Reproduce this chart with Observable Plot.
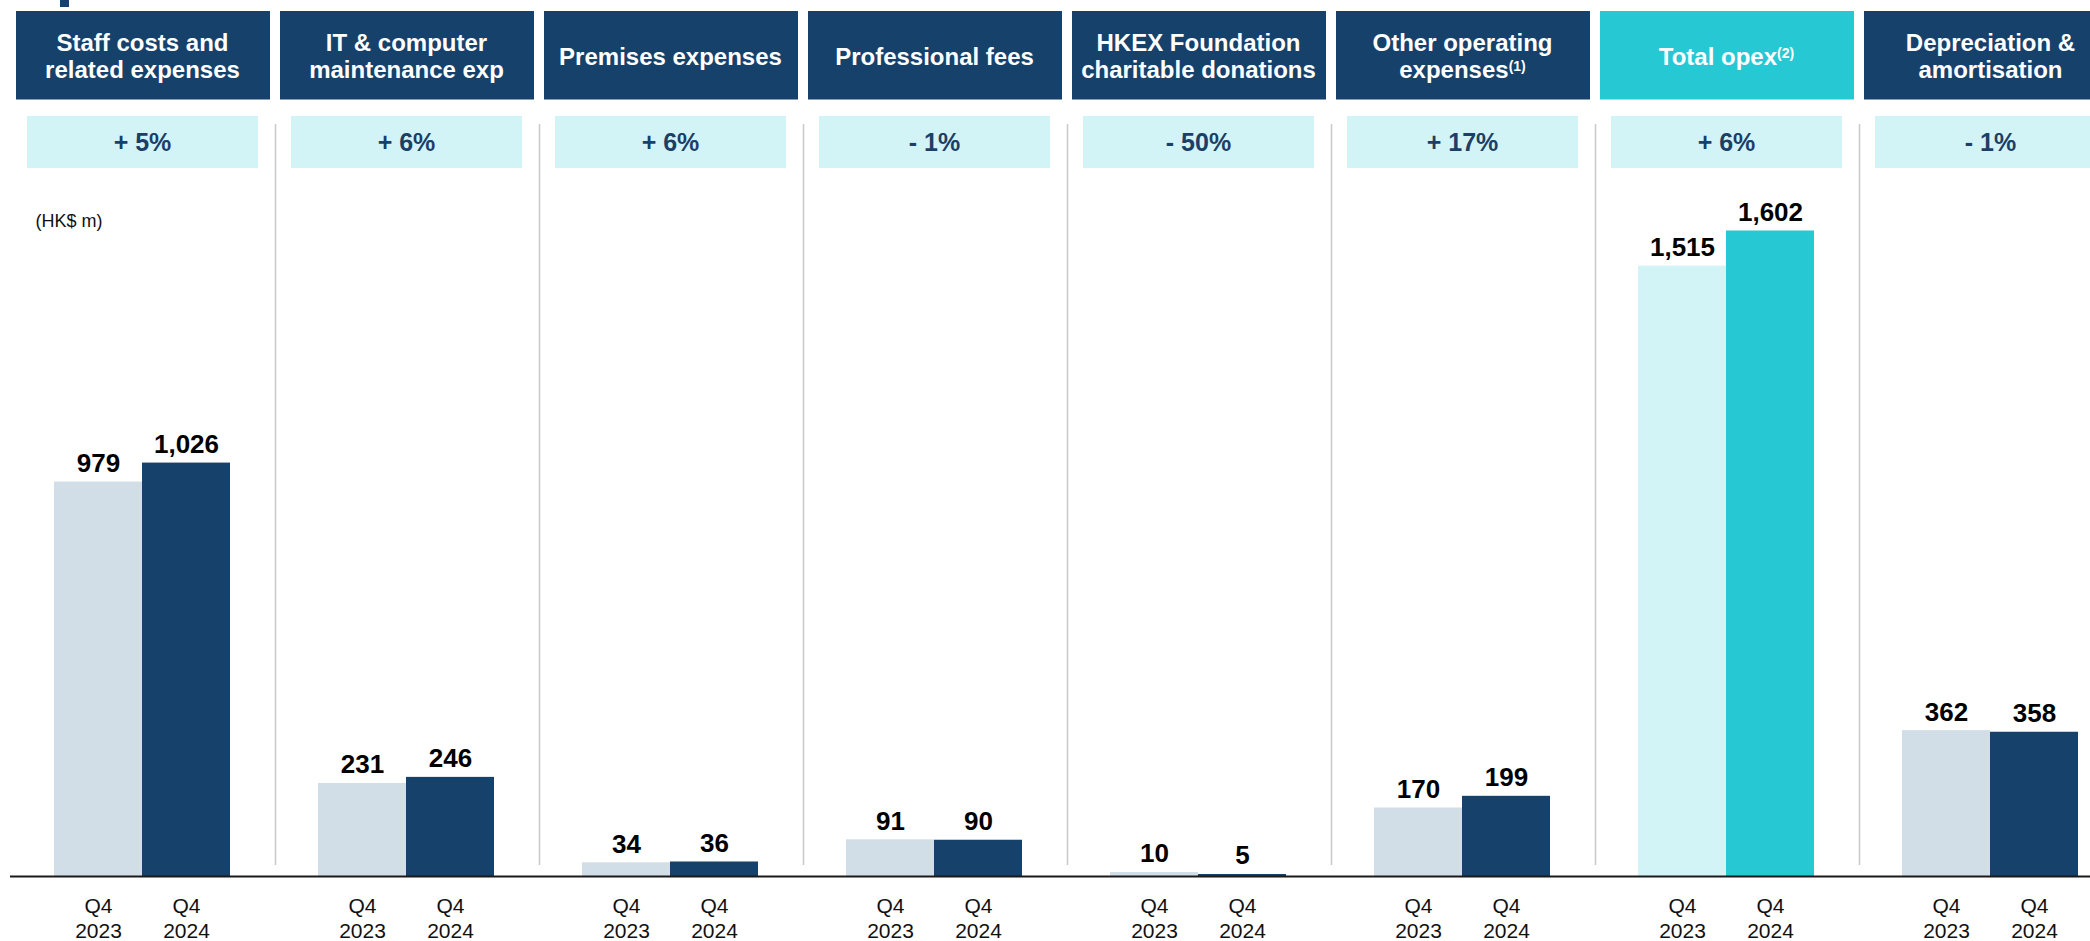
<!DOCTYPE html>
<html><head><meta charset="utf-8">
<script src="https://cdn.jsdelivr.net/npm/d3@7"></script>
<script src="https://cdn.jsdelivr.net/npm/@observablehq/plot@0.6"></script>
<style>
html,body{margin:0;padding:0;background:#fff;overflow:hidden;width:2090px;height:941px;}
#chart{position:absolute;left:0;top:0;z-index:1;}
.frag{position:absolute;left:60px;top:0;width:9px;height:7px;background:#16416b;z-index:2;}
</style></head><body>
<div class="frag"></div>
<div id="chart"></div>
<script>
// ---- data ----
const categories = [
  "Staff costs and\nrelated expenses",
  "IT & computer\nmaintenance exp",
  "Premises expenses",
  "Professional fees",
  "HKEX Foundation\ncharitable donations",
  "Other operating\nexpenses(1)",
  "Total opex(2)",
  "Depreciation &\namortisation"
];
const periods = ["Q4 2023", "Q4 2024"];
const q4_2023 = [979, 231, 34, 91, 10, 170, 1515, 362];
const q4_2024 = [1026, 246, 36, 90, 5, 199, 1602, 358];
const changes = ["+ 5%", "+ 6%", "+ 6%", "- 1%", "- 50%", "+ 17%", "+ 6%", "- 1%"];
const unitLabel = "(HK$ m)";
const highlight = categories[6];

const rows = categories.flatMap((c, i) => [
  {cat: c, period: periods[0], value: q4_2023[i]},
  {cat: c, period: periods[1], value: q4_2024[i]}
]);

// ---- style / layout ----
const FONT = "'Liberation Sans', Arial, Helvetica, sans-serif";
const NAVY = "#16416b", LIGHT = "#d1dde7", TEAL = "#26c9d3", LTEAL = "#d3f4f6", PCT = "#1b3f67", SEP = "#c8c8c8";
const W = 2090, H = 941, baseY = 876, yMax = 2174, step = 264, x0 = 10;
const py = px => yMax * (baseY - px) / baseY; // pixel row -> y value (for decorations)
const fmt = d3.format(",");
const barColor = d => d.cat === highlight
  ? (d.period === periods[0] ? LTEAL : TEAL)
  : (d.period === periods[0] ? LIGHT : NAVY);

const plot = Plot.plot({
  width: W, height: H,
  marginTop: 0, marginBottom: H - baseY, marginLeft: 0, marginRight: 0,
  style: {fontFamily: FONT, background: "#fff"},
  fx: {domain: categories, range: [x0, x0 + step * categories.length], padding: 0, axis: null},
  x: {domain: periods, paddingInner: 0, paddingOuter: 0.5, axis: null},
  y: {domain: [0, yMax], axis: null},
  color: {type: "identity"},
  marks: [
    Plot.barY(categories, {fx: d => d, y1: py(99.5), y2: py(11), fill: d => d === highlight ? TEAL : NAVY, insetLeft: 6, insetRight: 4}),
    Plot.text(categories, {fx: d => d, y: py(55.5), text: d => d, fill: "#fff", fontSize: 24, fontWeight: "bold", lineHeight: 1.14}),
    Plot.barY(changes, {fx: (d, i) => categories[i], y1: py(168), y2: py(116), fill: LTEAL, insetLeft: 17, insetRight: 16}),
    Plot.text(changes, {fx: (d, i) => categories[i], y: py(142), text: d => d, fill: PCT, fontSize: 25, fontWeight: "bold"}),
    Plot.ruleX(categories.slice(0, -1), {fx: d => d, x: null, y1: py(124), y2: py(865), dx: step / 2 + 1, stroke: SEP, strokeWidth: 1.5}),
    Plot.text([unitLabel], {fx: () => categories[0], frameAnchor: "left", dx: 25, y: py(226), lineAnchor: "bottom", textAnchor: "start", fontSize: 18, fill: "#111"}),
    Plot.barY(rows, {fx: "cat", x: "period", y: "value", fill: barColor}),
    Plot.text(rows, {fx: "cat", x: "period", y: "value", text: d => fmt(d.value), lineAnchor: "bottom", dy: -10, fontSize: 26, fontWeight: "bold", fill: "#000"}),
    Plot.ruleY([0], {stroke: "#1a1a1a", strokeWidth: 2}),
    Plot.text(rows, {fx: "cat", x: "period", text: d => d.period.replace(" ", "\n"), frameAnchor: "bottom", lineAnchor: "top", dy: 19, fontSize: 21, lineHeight: 1.19, fill: "#111"})
  ]
});

// superscript footnote markers like "(1)"
(function supers(root) {
  const walker = document.createTreeWalker(root, NodeFilter.SHOW_TEXT);
  const nodes = [];
  while (walker.nextNode()) nodes.push(walker.currentNode);
  for (const n of nodes) {
    const m = n.nodeValue.match(/^(.*?)(\(\d\))$/);
    if (!m) continue;
    n.nodeValue = m[1];
    const t = document.createElementNS("http://www.w3.org/2000/svg", "tspan");
    t.setAttribute("font-size", "14");
    t.setAttribute("dy", "-7");
    t.textContent = m[2];
    n.parentNode.insertBefore(t, n.nextSibling);
  }
})(plot);

document.getElementById("chart").appendChild(plot);
</script>
</body></html>
